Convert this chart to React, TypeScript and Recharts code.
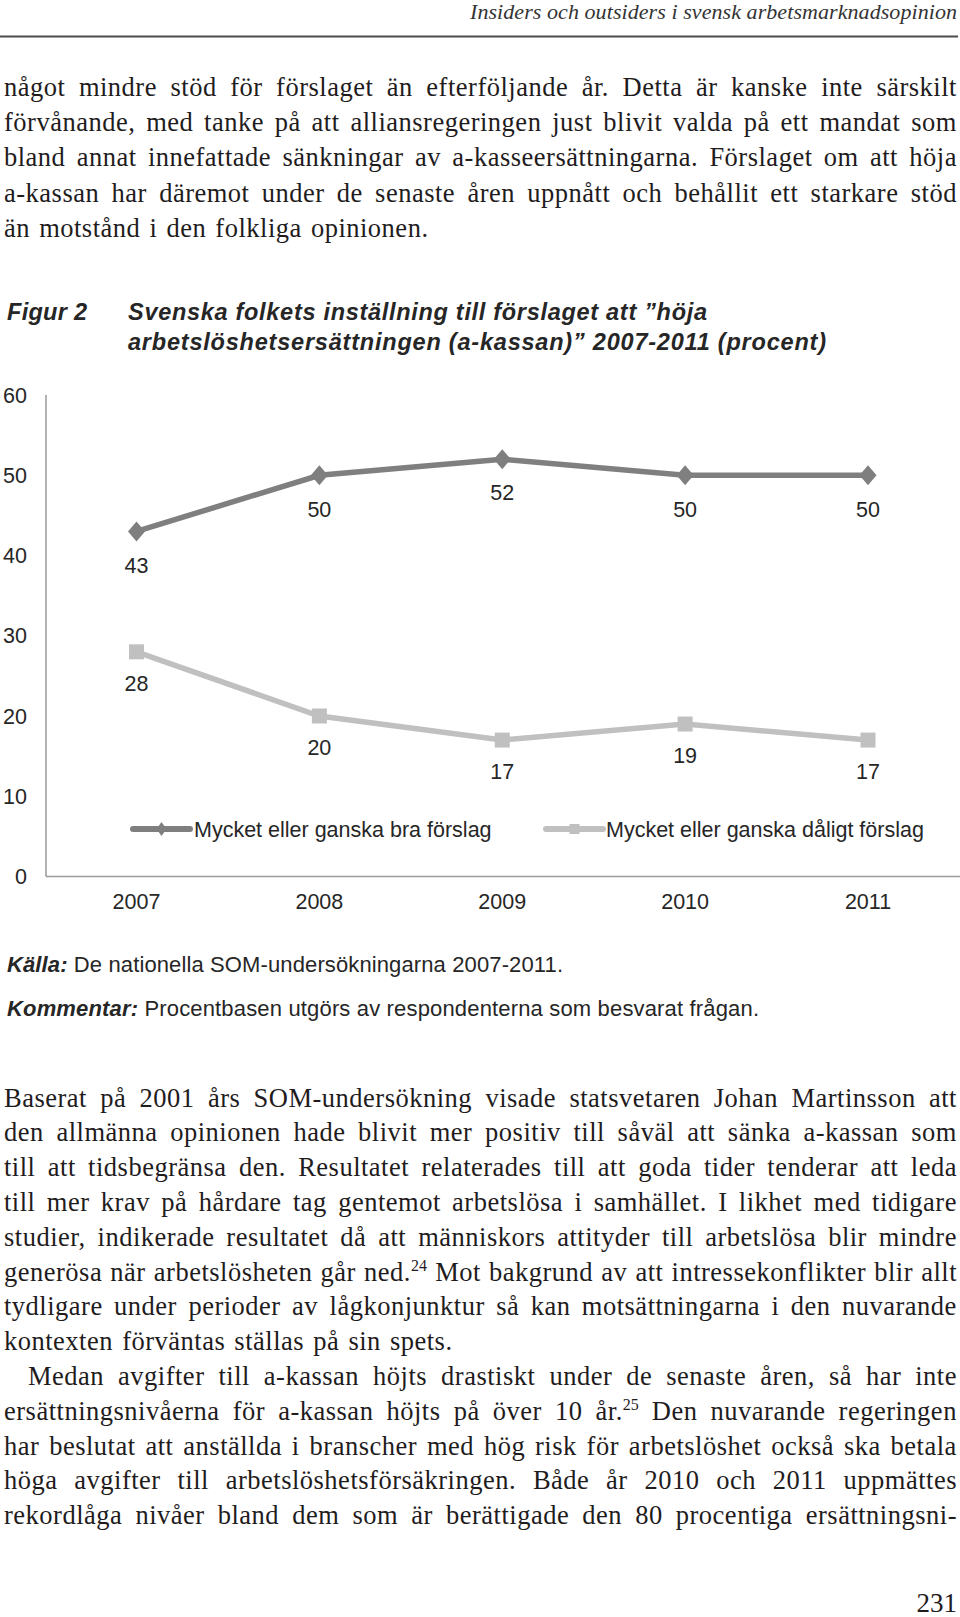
import React from 'react';
import { LineChart, Line, XAxis, YAxis, Legend, LabelList } from 'recharts';

// ---------- data ----------
const years = ['2007', '2008', '2009', '2010', '2011'];
const goodValues = [43, 50, 52, 50, 50];
const badValues = [28, 20, 17, 19, 17];
const yTicks = [0, 10, 20, 30, 40, 50, 60];
const goodName = 'Mycket eller ganska bra förslag';
const badName = 'Mycket eller ganska dåligt förslag';

const data = years.map((year, i) => ({ year, good: goodValues[i], bad: badValues[i] }));

// ---------- page text ----------
const headerText = 'Insiders och outsiders i svensk arbetsmarknadsopinion';
const topParagraph = [
  'något mindre stöd för förslaget än efterföljande år. Detta är kanske inte särskilt',
  'förvånande, med tanke på att alliansregeringen just blivit valda på ett mandat som',
  'bland annat innefattade sänkningar av a-kasseersättningarna. Förslaget om att höja',
  'a-kassan har däremot under de senaste åren uppnått och behållit ett starkare stöd',
  'än motstånd i den folkliga opinionen.',
];
const bottomParagraph = [
  'Baserat på 2001 års SOM-undersökning visade statsvetaren Johan Martinsson att',
  'den allmänna opinionen hade blivit mer positiv till såväl att sänka a-kassan som',
  'till att tidsbegränsa den. Resultatet relaterades till att goda tider tenderar att leda',
  'till mer krav på hårdare tag gentemot arbetslösa i samhället. I likhet med tidigare',
  'studier, indikerade resultatet då att människors attityder till arbetslösa blir mindre',
  'generösa när arbetslösheten går ned.^24 Mot bakgrund av att intressekonflikter blir allt',
  'tydligare under perioder av lågkonjunktur så kan motsättningarna i den nuvarande',
  'kontexten förväntas ställas på sin spets.',
  'Medan avgifter till a-kassan höjts drastiskt under de senaste åren, så har inte',
  'ersättningsnivåerna för a-kassan höjts på över 10 år.^25 Den nuvarande regeringen',
  'har beslutat att anställda i branscher med hög risk för arbetslöshet också ska betala',
  'höga avgifter till arbetslöshetsförsäkringen. Både år 2010 och 2011 uppmättes',
  'rekordlåga nivåer bland dem som är berättigade den 80 procentiga ersättningsni-',
];
const bottomNotJustified = [7];
const bottomIndented = [8];
const figLabel = 'Figur 2';
const titleLine1 = 'Svenska folkets inställning till förslaget att \u201Dhöja';
const titleLine2 = 'arbetslöshetsersättningen (a-kassan)\u201D 2007-2011 (procent)';
const sourceLabel = 'Källa:';
const sourceText = ' De nationella SOM-undersökningarna 2007-2011.';
const commentLabel = 'Kommentar:';
const commentText = ' Procentbasen utgörs av respondenterna som besvarat frågan.';
const pageNumber = '231';

// ---------- styles ----------
const GOOD = '#7f7f7f';
const BAD = '#c0c0c0';
const AXIS = '#9a9a9a';
const INK = '#262626';
const BODY_INK = '#1f1c1d';
const SANS = "'Liberation Sans', Arial, Helvetica, sans-serif";
const SERIF = "'Liberation Serif', 'Times New Roman', serif";
const FS = 21.5;
const BODY_FS = 26.5;
const BODY_LH = 31;
const BODY_ASC = (BODY_LH - BODY_FS * 1.107) / 2 + BODY_FS * 0.891;

function renderWord(w: string) {
  const parts = w.split('^');
  if (parts.length === 1) return w;
  return (
    <>
      {parts[0]}
      <span style={{ fontSize: 16, position: 'relative', top: -10, letterSpacing: 0 }}>{parts[1]}</span>
      {parts.slice(2).join('')}
    </>
  );
}

function BodyLine({ text, baseline, justify, left }: { text: string; baseline: number; justify: boolean; left: number }) {
  const base: React.CSSProperties = {
    position: 'absolute',
    left,
    width: 957 - left,
    top: baseline - BODY_ASC,
    height: BODY_LH,
    lineHeight: BODY_LH + 'px',
    fontFamily: SERIF,
    fontSize: BODY_FS,
    letterSpacing: 0.5,
    color: BODY_INK,
    whiteSpace: 'nowrap',
  };
  if (!justify) {
    return (
      <div style={{ ...base, wordSpacing: 2 }}>
        {text.split(' ').map((w, i) => (
          <React.Fragment key={i}>
            {i > 0 ? ' ' : ''}
            {renderWord(w)}
          </React.Fragment>
        ))}
      </div>
    );
  }
  const words = text.split(' ');
  return (
    <div style={{ ...base, display: 'flex', justifyContent: 'space-between', alignItems: 'baseline' }}>
      {words.map((w, i) => (
        <span key={i}>{renderWord(w)}</span>
      ))}
    </div>
  );
}

// ---------- chart parts ----------
const YTick = (props: any) => {
  const { x, y, payload } = props;
  return (
    <text x={x} y={y} dy="0.35em" textAnchor="end" fontFamily={SANS} fontSize={FS} fill={INK}>
      {payload.value}
    </text>
  );
};

const XTick = (props: any) => {
  const { x, y, payload } = props;
  return (
    <text x={x} y={y} dy="0.71em" textAnchor="middle" fontFamily={SANS} fontSize={FS} fill={INK}>
      {payload.value}
    </text>
  );
};

const diamondPath = (cx: number, cy: number, hw: number, hh: number) =>
  `M${cx},${cy - hh} L${cx + hw},${cy} L${cx},${cy + hh} L${cx - hw},${cy} Z`;

const DiamondDot = (props: any) => {
  const { cx, cy, index } = props;
  if (cx == null || cy == null) return <g key={`gd${index}`} />;
  return <path key={`gd${index}`} d={diamondPath(cx, cy, 8.5, 10)} fill={GOOD} />;
};

const SquareDot = (props: any) => {
  const { cx, cy, index } = props;
  if (cx == null || cy == null) return <g key={`bd${index}`} />;
  return <rect key={`bd${index}`} x={cx - 7.5} y={cy - 7.5} width={15} height={15} fill={BAD} />;
};

const LegendContent = (props: any) => {
  const payload = props.payload || [];
  const goodItem = payload.find((p: any) => p.dataKey === 'good');
  const badItem = payload.find((p: any) => p.dataKey === 'bad');
  const items = [
    { name: goodItem ? goodItem.value : goodName, color: GOOD, x0: 133, x1: 190, tx: 194, shape: 'diamond' },
    { name: badItem ? badItem.value : badName, color: BAD, x0: 546, x1: 603, tx: 606, shape: 'square' },
  ];
  return (
    <svg width={960} height={30} style={{ display: 'block' }}>
      {items.map((it, i) => {
        const mx = (it.x0 + it.x1) / 2;
        return (
          <g key={i}>
            <line x1={it.x0} x2={it.x1} y1={15} y2={15} stroke={it.color} strokeWidth={6} strokeLinecap="round" />
            {it.shape === 'diamond' ? (
              <path d={diamondPath(mx, 15, 5, 7)} fill={it.color} />
            ) : (
              <rect x={mx - 5} y={10} width={10} height={10} fill={it.color} />
            )}
            <text x={it.tx} y={15} dy="0.35em" fontFamily={SANS} fontSize={FS} fill={INK}>
              {it.name}
            </text>
          </g>
        );
      })}
    </svg>
  );
};

export default function App() {
  return (
    <div style={{ position: 'absolute', left: 0, top: 0, width: 960, height: 1617, background: '#fff', overflow: 'hidden' }}>
      <svg width={960} height={1617} style={{ position: 'absolute', left: 0, top: 0 }}>
        <text x={957} y={19} textAnchor="end" fontFamily={SERIF} fontStyle="italic" fontSize={22} fill="#333" textLength={487} lengthAdjust="spacing">
          {headerText}
        </text>
        <rect x={0} y={35.5} width={958} height={2} fill="#4d4d4d" />

        <text x={7} y={319.5} fontFamily={SANS} fontWeight="bold" fontStyle="italic" fontSize={23.5} fill={INK} textLength={80} lengthAdjust="spacing">
          {figLabel}
        </text>
        <text x={128} y={319.5} fontFamily={SANS} fontWeight="bold" fontStyle="italic" fontSize={23.5} fill={INK} textLength={579} lengthAdjust="spacing">
          {titleLine1}
        </text>
        <text x={128} y={349.5} fontFamily={SANS} fontWeight="bold" fontStyle="italic" fontSize={23.5} fill={INK} textLength={698} lengthAdjust="spacing">
          {titleLine2}
        </text>

        <text x={7} y={971.5} fontFamily={SANS} fontSize={22} fill={INK} textLength={556} lengthAdjust="spacing">
          <tspan fontWeight="bold" fontStyle="italic">{sourceLabel}</tspan>
          <tspan>{sourceText}</tspan>
        </text>
        <text x={7} y={1015.5} fontFamily={SANS} fontSize={22} fill={INK} textLength={752} lengthAdjust="spacing">
          <tspan fontWeight="bold" fontStyle="italic">{commentLabel}</tspan>
          <tspan>{commentText}</tspan>
        </text>

        <text x={957} y={1611.5} textAnchor="end" fontFamily={SERIF} fontSize={27} fill={BODY_INK}>
          {pageNumber}
        </text>
      </svg>

      {topParagraph.map((t, i) => (
        <BodyLine key={'t' + i} text={t} baseline={96.5 + 35.2 * i} justify={i < topParagraph.length - 1} left={4} />
      ))}
      {bottomParagraph.map((t, i) => (
        <BodyLine
          key={'b' + i}
          text={t}
          baseline={1107 + 34.8 * i}
          justify={!bottomNotJustified.includes(i)}
          left={bottomIndented.includes(i) ? 28 : 4}
        />
      ))}

      <div style={{ position: 'absolute', left: 0, top: 380 }}>
        <LineChart width={960} height={540} data={data} margin={{ top: 15, right: 0, bottom: 3.5, left: 0 }}>
          <XAxis
            dataKey="year"
            height={40}
            padding={{ left: 90.5, right: 92 }}
            axisLine={{ stroke: AXIS, strokeWidth: 1.5 }}
            tickLine={false}
            tickSize={0}
            tickMargin={17}
            interval={0}
            tick={XTick}
          />
          <YAxis
            domain={[0, 60]}
            ticks={yTicks}
            width={46}
            axisLine={{ stroke: AXIS, strokeWidth: 1.5 }}
            tickLine={false}
            tickSize={0}
            tickMargin={19}
            interval={0}
            tick={YTick}
          />
          <Legend
            layout="horizontal"
            verticalAlign="middle"
            align="center"
            wrapperStyle={{ top: 434, left: 0, width: 960, height: 30 }}
            content={LegendContent}
          />
          <Line
            type="linear"
            dataKey="good"
            name={goodName}
            stroke={GOOD}
            strokeWidth={5.5}
            dot={DiamondDot}
            activeDot={false}
            isAnimationActive={false}
          >
            <LabelList dataKey="good" position="bottom" offset={26} fill={INK} fontSize={FS} fontFamily={SANS} />
          </Line>
          <Line
            type="linear"
            dataKey="bad"
            name={badName}
            stroke={BAD}
            strokeWidth={5.5}
            dot={SquareDot}
            activeDot={false}
            isAnimationActive={false}
          >
            <LabelList dataKey="bad" position="bottom" offset={24} fill={INK} fontSize={FS} fontFamily={SANS} />
          </Line>
        </LineChart>
      </div>
    </div>
  );
}
